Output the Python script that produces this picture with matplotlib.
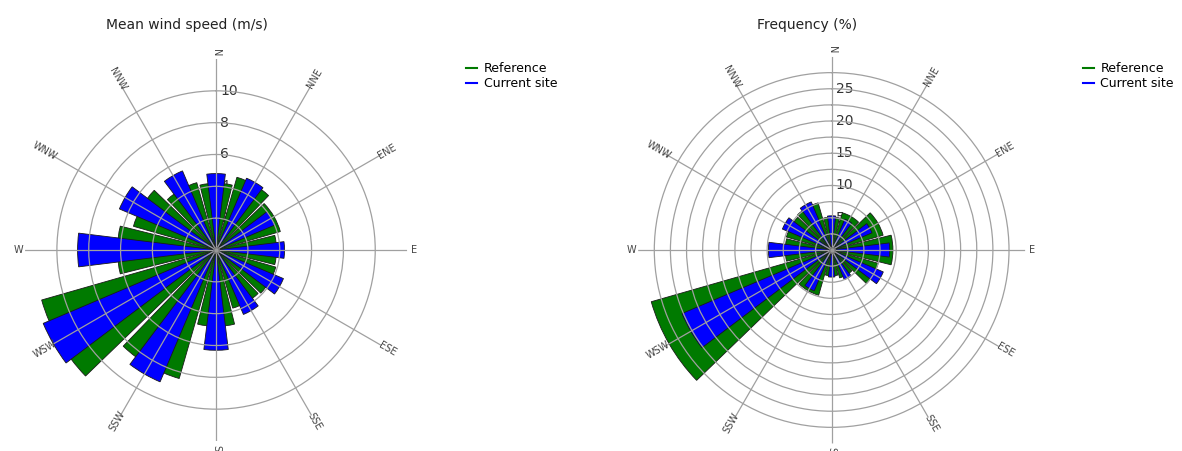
import numpy as np
import matplotlib.pyplot as plt
from matplotlib.lines import Line2D
from matplotlib.transforms import offset_copy

# sectors (12 x 30 deg)
directions = ['N', 'NNE', 'ENE', 'E', 'ESE', 'SSE', 'S', 'SSW', 'WSW', 'W', 'WNW', 'NNW']
bearings = [0, 30, 60, 90, 120, 150, 180, 210, 240, 270, 300, 330]

# mean wind speed (m/s)
speed_reference = [4.2, 4.75, 4.2, 3.8, 3.9, 3.8, 4.8, 8.4, 11.4, 6.2, 5.4, 4.4]
speed_current = [4.8, 4.9, 4.0, 4.3, 4.6, 4.4, 6.3, 9.0, 11.8, 8.7, 6.6, 5.4]

# frequency (%)
freq_reference = [5.1, 6.0, 8.3, 9.5, 7.5, 4.5, 4.0, 7.3, 29.1, 7.2, 7.3, 7.6]
freq_current = [5.3, 5.2, 6.8, 9.0, 8.7, 5.0, 4.2, 6.9, 25.2, 9.8, 8.3, 8.1]

series_names = ['Reference', 'Current site']
series_colors = ['#007a00', '#0000ff']

GRID_COLOR = '#a0a0a0'


def setup(ax, rmax):
    ax.set_theta_zero_location('N')
    ax.set_theta_direction(-1)
    ax.set_ylim(0, rmax)
    ax.spines['polar'].set_visible(False)
    ax.set_xticks(np.deg2rad(bearings))
    ax.set_xticklabels([])


def wind_rose(fig, rect, ref, cur, ring_step, label_step, rmax, title, title_x, legend_x):
    theta = np.deg2rad(bearings)
    rings = np.arange(ring_step, rmax - ring_step / 2, ring_step)
    labelled = np.arange(label_step, rmax - ring_step / 2, label_step)

    # base axes: radial labels under the bars
    ax = fig.add_axes(rect, projection='polar')
    setup(ax, rmax)
    ax.grid(False)
    ax.set_yticks(rings)
    ax.set_yticklabels([])
    shifted = offset_copy(ax.transData, fig=fig, x=4, y=0, units='dots')
    for r in labelled:
        ax.text(0, r, '%g' % r, transform=shifted, ha='left', va='center',
                fontsize=10, color='#333333', zorder=0.5)
    ax.bar(theta, ref, width=np.deg2rad(28), color=series_colors[0],
           edgecolor='#1a1a1a', linewidth=0.6, zorder=1)
    ax.bar(theta, cur, width=np.deg2rad(14), color=series_colors[1],
           edgecolor='#1a1a1a', linewidth=0.6, zorder=2)

    # overlay axes: grid drawn over the bars
    axg = fig.add_axes(rect, projection='polar', label=title + '_grid')
    axg.patch.set_alpha(0)
    setup(axg, rmax)
    axg.set_yticks(rings)
    axg.set_yticklabels([])
    axg.grid(True, color=GRID_COLOR, linewidth=0.9)
    axg.plot([0], [0], 'o', ms=4, color='#999999', mec='#777777')

    # direction labels, rotated along the spokes
    for name, b in zip(directions, bearings):
        a = 90 - b
        rot = ((a + 90) % 180) - 90
        axg.text(np.deg2rad(b), rmax * 1.035, name, rotation=rot, ha='center', va='center',
                 rotation_mode='anchor', fontsize=7, color='#444444')

    fig.text(title_x, 0.945, title, ha='center', va='center', fontsize=10, color='#222222')

    handles = [Line2D([], [], color=c, lw=1.5) for c in series_colors]
    fig.legend(handles, series_names, loc='upper left', bbox_to_anchor=(legend_x, 0.862),
               frameon=False, fontsize=9, handlelength=0.9, handletextpad=0.5,
               labelspacing=0.15, borderpad=0, borderaxespad=0)


fig = plt.figure(figsize=(11.82, 4.51), dpi=100)

wind_rose(fig, [0.0212, 0.0222, 0.3232, 0.847], speed_reference, speed_current,
          2, 2, 12, 'Mean wind speed (m/s)', 187 / 1182, 466 / 1182)
wind_rose(fig, [0.5399, 0.0167, 0.3274, 0.858], freq_reference, freq_current,
          2.5, 5, 30, 'Frequency (%)', 807 / 1182, 1083 / 1182)

fig.savefig('out.png', dpi=100)
